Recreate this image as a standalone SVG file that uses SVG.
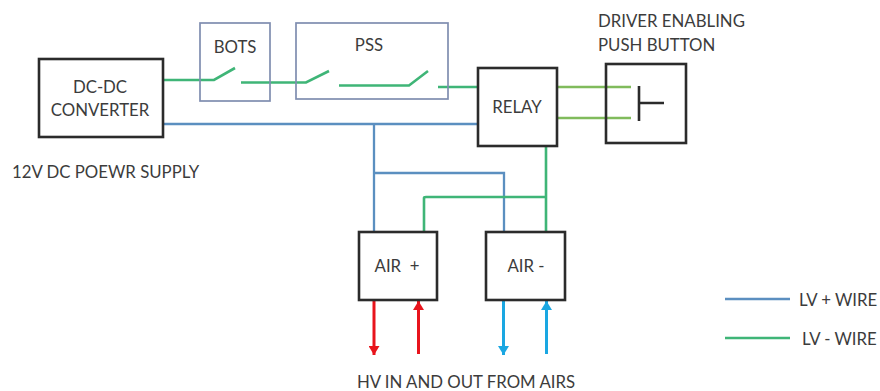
<svg xmlns="http://www.w3.org/2000/svg" width="880" height="391" viewBox="0 0 880 391">
<style>
text{font-family:Lato,"Liberation Sans",sans-serif;font-size:16.800px;fill:#3c3c3c}
.m{text-anchor:middle}
.b{fill:none;stroke:#2b2b2b;stroke-width:2.6}
.g{fill:none;stroke:#7f8db0;stroke-width:1.7}
.lp{fill:none;stroke:#5b8fc0;stroke-width:2.3}
.lm{fill:none;stroke:#3fb577;stroke-width:2.6}
.lo{fill:none;stroke:#80bb5c;stroke-width:2.4}
.r{fill:none;stroke:#e8141c;stroke-width:3}
.c{fill:none;stroke:#1aa7e2;stroke-width:3}
</style>
<defs>
<marker id="ar" markerUnits="userSpaceOnUse" markerWidth="10" markerHeight="11" refX="9" refY="5.500" orient="auto"><path d="M0 0L9 5.500L0 11Z" fill="#e8141c"/></marker>
<marker id="ac" markerUnits="userSpaceOnUse" markerWidth="10" markerHeight="11" refX="9" refY="5.500" orient="auto"><path d="M0 0L9 5.500L0 11Z" fill="#1aa7e2"/></marker>
</defs>
<g id="connectors">
<path class="lm" d="M163 80H214L235 68M241 82.500H306L329 71M339 85.500H409L428 71M438 87H478"/>
<path class="lo" d="M557 87H631M557 118H631"/>
<path class="lp" d="M163 124H478M374 124V232M374 173H504V232"/>
<path class="lm" d="M546 146V232M424 232V198Q424 197 426 197H546"/>
<path class="r" d="M374 300V355" marker-end="url(#ar)"/>
<path class="r" d="M418.500 354V301" marker-end="url(#ar)"/>
<path class="c" d="M503.500 300V355" marker-end="url(#ac)"/>
<path class="c" d="M546.500 354V301" marker-end="url(#ac)"/>
</g>
<g id="dcdc"><rect class="b" x="39" y="59" width="124" height="78"/><text class="m" x="100" y="93">DC-DC</text><text class="m" x="100" y="116">CONVERTER</text></g>
<g id="supply-label"><text x="12" y="178">12V DC POEWR SUPPLY</text></g>
<g id="bots"><rect class="g" x="200" y="23" width="70" height="78"/><text class="m" x="235" y="53">BOTS</text></g>
<g id="pss"><rect class="g" x="296" y="23" width="152" height="76"/><text class="m" x="369" y="51">PSS</text></g>
<g id="relay"><rect class="b" x="478" y="68" width="79" height="78"/><text class="m" x="517" y="113">RELAY</text></g>
<g id="button"><rect class="b" x="606" y="64" width="80" height="79"/><path d="M639 86V121M639 103H664" fill="none" stroke="#2b2b2b" stroke-width="2.600"/><text x="598" y="27">DRIVER ENABLING</text><text x="598" y="51">PUSH BUTTON</text></g>
<g id="air-plus"><rect class="b" x="359" y="232" width="78" height="68"/><text class="m" x="397" y="272" xml:space="preserve">AIR  +</text></g>
<g id="air-minus"><rect class="b" x="486" y="232" width="79" height="68"/><text class="m" x="526" y="272">AIR -</text></g>
<g id="hv-label"><text class="m" x="466" y="388">HV IN AND OUT FROM AIRS</text></g>
<g id="legend">
<path class="lp" d="M725 299H790"/><path class="lm" d="M725 338H790"/>
<text x="799" y="306">LV + WIRE</text><text x="802" y="345">LV - WIRE</text>
</g>
</svg>
